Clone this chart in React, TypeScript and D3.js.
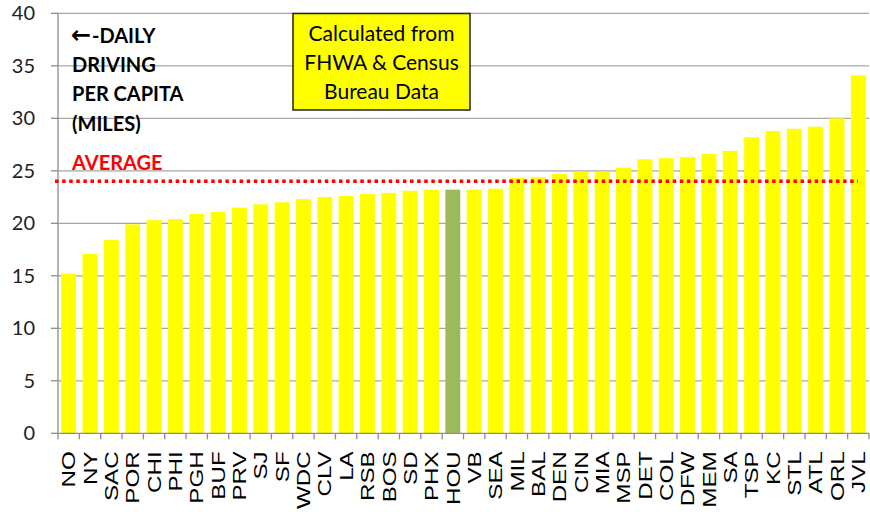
import React, { useEffect, useRef } from 'react';
import * as d3 from 'd3';

const cities = ['NO', 'NY', 'SAC', 'POR', 'CHI', 'PHI', 'PGH', 'BUF', 'PRV', 'SJ', 'SF', 'WDC', 'CLV', 'LA', 'RSB', 'BOS', 'SD', 'PHX', 'HOU', 'VB', 'SEA', 'MIL', 'BAL', 'DEN', 'CIN', 'MIA', 'MSP', 'DET', 'COL', 'DFW', 'MEM', 'SA', 'TSP', 'KC', 'STL', 'ATL', 'ORL', 'JVL'];
const miles = [15.2, 17.1, 18.4, 19.9, 20.3, 20.4, 20.9, 21.1, 21.5, 21.8, 22.0, 22.3, 22.5, 22.6, 22.8, 22.9, 23.1, 23.2, 23.2, 23.2, 23.3, 24.3, 24.4, 24.7, 24.9, 24.9, 25.3, 26.1, 26.2, 26.3, 26.6, 26.9, 28.2, 28.8, 29.0, 29.2, 30.0, 34.1];
const highlight = 'HOU';
const average = 24.0;
const yTicks = [0, 5, 10, 15, 20, 25, 30, 35, 40];
const leftNote = ['-DAILY', 'DRIVING', 'PER CAPITA', '(MILES)'];
const boxNote = ['Calculated from', 'FHWA & Census', 'Bureau Data'];

const App = () => {
  const ref = useRef<SVGSVGElement>(null);

  useEffect(() => {
    const svg = d3.select(ref.current);
    svg.selectAll('*').remove();

    const left = 58, right = 869, top = 13.3, bottom = 433.3;
    const calibri = 'Lato, "Open Sans", sans-serif';

    const x = d3.scaleBand<string>()
      .domain(cities)
      .range([left, right])
      .paddingInner(0.3)
      .paddingOuter(0.15);

    const y = d3.scaleLinear()
      .domain([0, 40])
      .range([bottom, top]);

    // gridlines
    svg.selectAll('.grid')
      .data(yTicks.filter(d => d > 0))
      .enter()
      .append('line')
      .attr('x1', left)
      .attr('x2', right)
      .attr('y1', d => y(d))
      .attr('y2', d => y(d))
      .attr('stroke', '#a6a6a6')
      .attr('stroke-width', 1.3);

    // y ticks + labels
    svg.selectAll('.ytick')
      .data(yTicks)
      .enter()
      .append('line')
      .attr('x1', left - 7)
      .attr('x2', left)
      .attr('y1', d => y(d))
      .attr('y2', d => y(d))
      .attr('stroke', '#8c8c8c')
      .attr('stroke-width', 1.3);

    svg.selectAll('.ylabel')
      .data(yTicks)
      .enter()
      .append('text')
      .attr('x', 35)
      .attr('y', d => y(d))
      .attr('dy', '0.35em')
      .attr('text-anchor', 'end')
      .attr('font-family', calibri)
      .attr('font-size', '20px')
      .attr('fill', '#222')
      .text(d => d);

    // bars
    svg.selectAll('.bar')
      .data(cities)
      .enter()
      .append('rect')
      .attr('x', d => x(d)!)
      .attr('width', x.bandwidth())
      .attr('y', (d, i) => y(miles[i]))
      .attr('height', (d, i) => y(0) - y(miles[i]))
      .attr('fill', d => (d === highlight ? '#9bbb59' : '#ffff00'));

    // axes
    svg.append('line')
      .attr('x1', left).attr('x2', left)
      .attr('y1', top).attr('y2', bottom)
      .attr('stroke', '#8c8c8c').attr('stroke-width', 1.3);
    svg.append('line')
      .attr('x1', left).attr('x2', right)
      .attr('y1', bottom).attr('y2', bottom)
      .attr('stroke', '#8c8c8c').attr('stroke-width', 1.3);

    const step = x.step();
    svg.selectAll('.xtick')
      .data(d3.range(cities.length + 1))
      .enter()
      .append('line')
      .attr('x1', i => left + i * step)
      .attr('x2', i => left + i * step)
      .attr('y1', bottom)
      .attr('y2', bottom + 6)
      .attr('stroke', '#8c8c8c')
      .attr('stroke-width', 1.3);

    // labels are stretched along their length, as in the original
    svg.selectAll('.xlabel')
      .data(cities)
      .enter()
      .append('text')
      .attr('transform', d => `translate(${x(d)! + x.bandwidth() / 2},${bottom + 18}) rotate(-90) scale(1.3,1)`)
      .attr('dy', '0.36em')
      .attr('text-anchor', 'end')
      .attr('font-family', '"Liberation Sans", Arial, sans-serif')
      .attr('font-size', '18.6px')
      .attr('fill', '#000')
      .text(d => d);

    // average line
    svg.append('line')
      .attr('x1', left - 3)
      .attr('x2', 858)
      .attr('y1', y(average))
      .attr('y2', y(average))
      .attr('stroke', '#ff0000')
      .attr('stroke-width', 3.5)
      .attr('stroke-dasharray', '3.5 3.6');

    svg.append('text')
      .attr('x', 72)
      .attr('y', 170)
      .attr('font-family', calibri)
      .attr('font-weight', 'bold')
      .attr('font-size', '20px')
      .attr('fill', '#ff0000')
      .text('AVERAGE');

    // arrow drawn as a heavier glyph before the first line
    svg.append('text')
      .attr('x', 71)
      .attr('y', 43)
      .attr('font-family', '"DejaVu Sans", sans-serif')
      .attr('font-weight', 'bold')
      .attr('font-size', '24px')
      .attr('fill', '#000')
      .text('\u2190');

    svg.selectAll('.note')
      .data(leftNote)
      .enter()
      .append('text')
      .attr('x', (d, i) => (i === 0 ? 92 : 72))
      .attr('y', (d, i) => 43 + i * 29.2)
      .attr('font-family', calibri)
      .attr('font-weight', 'bold')
      .attr('font-size', '20px')
      .attr('fill', '#000')
      .text(d => d);

    // source box
    svg.append('rect')
      .attr('x', 293)
      .attr('y', 13.5)
      .attr('width', 177)
      .attr('height', 96.5)
      .attr('fill', '#ffff00')
      .attr('stroke', '#222')
      .attr('stroke-width', 1.5);

    svg.selectAll('.boxnote')
      .data(boxNote)
      .enter()
      .append('text')
      .attr('x', 381.5)
      .attr('y', (d, i) => 41 + i * 29)
      .attr('text-anchor', 'middle')
      .attr('font-family', calibri)
      .attr('font-size', '21px')
      .attr('fill', '#000')
      .text(d => d);
  }, []);

  return (
    <svg ref={ref} width={870} height={512} viewBox="0 0 870 512"
      style={{ position: 'absolute', left: 0, top: 0, background: '#fff' }}>
    </svg>
  );
};

export default App;
